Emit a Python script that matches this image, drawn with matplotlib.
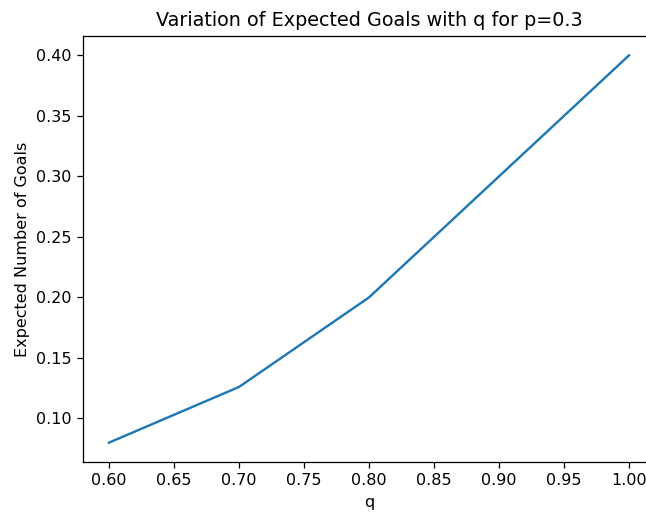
import matplotlib
matplotlib.use("Agg")
import matplotlib.pyplot as plt

q_values = [0.6, 0.7, 0.8, 0.9, 1.0]
expected_goals = [0.08, 0.126, 0.2, 0.3, 0.4]

# reference looks rendered at a higher dpi and cropped on the right
dpi = 115
fig = plt.figure(figsize=(646 / dpi, 512 / dpi), dpi=dpi)
ax = fig.add_axes([83 / 646, 1 - 462 / 512, (655 - 83) / 646, (462 - 36) / 512])
ax.plot(q_values, expected_goals)
ax.set_title('Variation of Expected Goals with q for p=0.3')
ax.set_xlabel('q')
ax.set_ylabel('Expected Number of Goals')
ax.spines['right'].set_visible(False)  # cut off in the reference
fig.savefig('out.png', dpi=dpi)
